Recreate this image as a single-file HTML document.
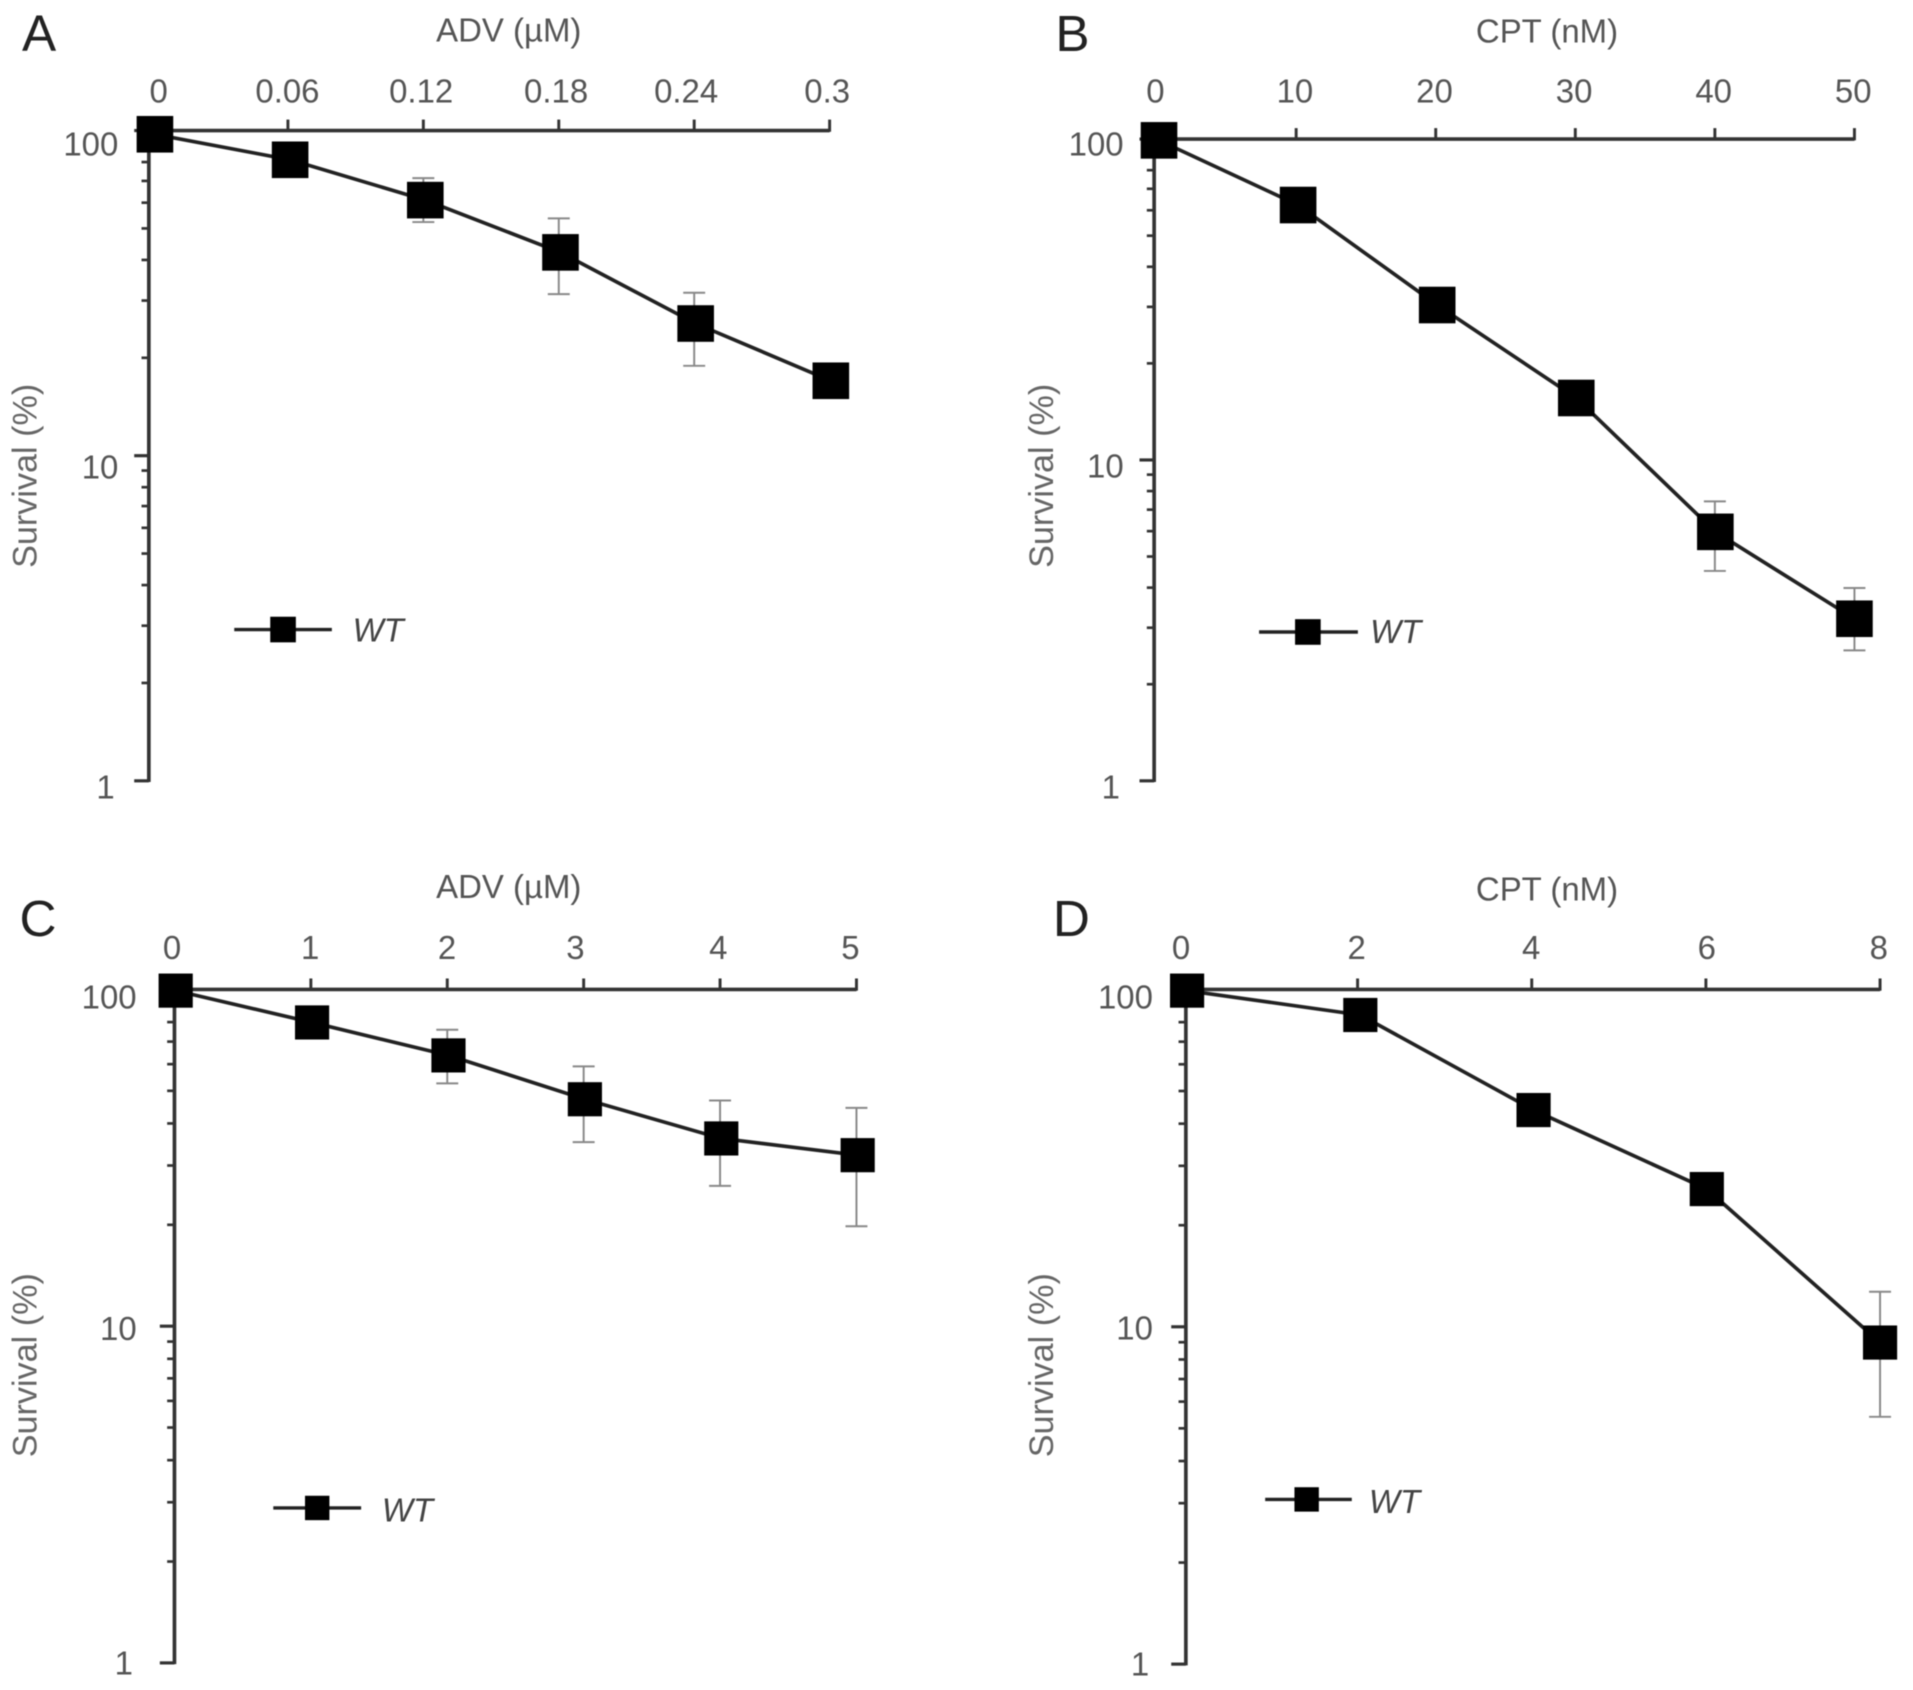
<!DOCTYPE html>
<html lang="en">
<head>
<meta charset="utf-8">
<title>Survival curves: ADV and CPT</title>
<style>
  html, body { margin: 0; padding: 0; background: #fff; }
  #figure { display: block; width: 1913px; height: 1690px; filter: blur(0.5px); }
  text { font-family: "Liberation Sans", sans-serif; fill: #555; }
</style>
</head>
<body>
<svg id="figure" xmlns="http://www.w3.org/2000/svg" width="1913" height="1690" viewBox="0 0 1568 1385.2"></svg>
<script>
// ---- Chart data ----
const panelADoses = [0, 0.06, 0.12, 0.18, 0.24, 0.3];
const panelATickLabels = ['0', '0.06', '0.12', '0.18', '0.24', '0.3'];
const panelASurvival = [97.4, 81.3, 61.1, 42.2, 25.5, 17.0];
const panelAErrHigh = [null, null, 71.4, 53.7, 31.7, null];
const panelAErrLow = [null, null, 52.3, 31.4, 18.9, null];

const panelBDoses = [0, 10, 20, 30, 40, 50];
const panelBTickLabels = ['0', '10', '20', '30', '40', '50'];
const panelBSurvival = [99.1, 62.3, 30.4, 15.6, 5.97, 3.2];
const panelBErrHigh = [null, null, null, null, 7.43, 3.99];
const panelBErrLow = [null, null, null, null, 4.51, 2.55];

const panelCDoses = [0, 1, 2, 3, 4, 5];
const panelCTickLabels = ['0', '1', '2', '3', '4', '5'];
const panelCSurvival = [99.2, 79.8, 63.7, 47.2, 36.1, 32.2];
const panelCErrHigh = [null, null, 75.9, 59.1, 46.8, 44.5];
const panelCErrLow = [null, null, 52.6, 35.2, 26.1, 19.8];

const panelDDoses = [0, 2, 4, 6, 8];
const panelDTickLabels = ['0', '2', '4', '6', '8'];
const panelDSurvival = [99.2, 84, 43.9, 25.6, 8.98];
const panelDErrHigh = [null, null, null, null, 12.7];
const panelDErrLow = [null, null, null, null, 5.41];

const yDecades = [100, 10, 1];
const yDecadeLabels = ['100', '10', '1'];
const yMinorFactors = [2, 3, 4, 5, 6, 7, 8, 9];
const legendLabel = 'WT';
const yAxisTitle = 'Survival (%)';

// ---- Layout, separate from the data ----
const panels = [
  { id: 'a', letter: 'A', title: 'ADV (\u00B5M)', doses: panelADoses, labels: panelATickLabels, survival: panelASurvival, hi: panelAErrHigh, lo: panelAErrLow,
    axisX: 122, axisEnd: 680, top: 107, bottom: 640, markX: [127, 681], tickX: [125, 680], labelX: [130, 678], labelNudge: [0, -4, -4, -3, -6, 0], labelY: 84,
    marker: 30, letterX: 18, letterY: 42, titleX: 417, titleY: 34, yTitleX: 30, yTitleY: 390, yLabelRight: 97, yLabelLast: 94, yLabelShift: [11, 9, 5],
    legend: { x1: 192, x2: 272, y: 516, sq: 232, size: 21, textX: 289, textY: 526 } },
  { id: 'b', letter: 'B', title: 'CPT (nM)', doses: panelBDoses, labels: panelBTickLabels, survival: panelBSurvival, hi: panelBErrHigh, lo: panelBErrLow,
    axisX: 946, axisEnd: 1520, top: 114, bottom: 640, markX: [950, 1520], tickX: [948, 1520], labelX: [947, 1519], labelNudge: [0, 0, 0, 0, 0, 0], labelY: 84,
    marker: 30, letterX: 865, letterY: 42, titleX: 1268, titleY: 35, yTitleX: 863, yTitleY: 390, yLabelRight: 921, yLabelLast: 918, yLabelShift: [4, 5, 5],
    legend: { x1: 1032, x2: 1113, y: 518, sq: 1072, size: 21, textX: 1123, textY: 527 } },
  { id: 'c', letter: 'C', title: 'ADV (\u00B5M)', doses: panelCDoses, labels: panelCTickLabels, survival: panelCSurvival, hi: panelCErrHigh, lo: panelCErrLow,
    axisX: 143, axisEnd: 702, top: 811, bottom: 1363, markX: [144, 703], tickX: [143, 702], labelX: [141, 697], labelNudge: [0, 2, 3, -3, 3, 0], labelY: 786,
    marker: 28, letterX: 16, letterY: 767, titleX: 417, titleY: 736, yTitleX: 30, yTitleY: 1119, yLabelRight: 112, yLabelLast: 109, yLabelShift: [6, 2, 0],
    legend: { x1: 224, x2: 296, y: 1236, sq: 260, size: 20, textX: 313, textY: 1247 } },
  { id: 'd', letter: 'D', title: 'CPT (nM)', doses: panelDDoses, labels: panelDTickLabels, survival: panelDSurvival, hi: panelDErrHigh, lo: panelDErrLow,
    axisX: 972, axisEnd: 1541, top: 811, bottom: 1364, markX: [973, 1541], tickX: [970, 1541], labelX: [968, 1540], labelNudge: [0, 1, 1, 2, 0], labelY: 786,
    marker: 28, letterX: 863, letterY: 767, titleX: 1268, titleY: 738, yTitleX: 863, yTitleY: 1119, yLabelRight: 945, yLabelLast: 942, yLabelShift: [6, 1, 0],
    legend: { x1: 1037, x2: 1108, y: 1229, sq: 1071, size: 20, textX: 1122, textY: 1240 } }
];

const SVG_NS = 'http://www.w3.org/2000/svg';
const figure = document.getElementById('figure');

function shape(parent, tag, attrs) {
  const node = document.createElementNS(SVG_NS, tag);
  Object.keys(attrs).forEach(function (k) { node.setAttribute(k, attrs[k]); });
  parent.appendChild(node);
  return node;
}
function label(parent, x, y, str, size, anchor, fill) {
  const node = shape(parent, 'text', { x: x, y: y, 'font-size': size, 'text-anchor': anchor, style: 'fill:' + fill });
  node.textContent = str;
  return node;
}

panels.forEach(function (p) {
  const maxDose = p.doses[p.doses.length - 1];
  const linear = function (range) {
    return function (v) { return range[0] + (v / maxDose) * (range[1] - range[0]); };
  };
  const xMark = linear(p.markX);
  const xTick = linear(p.tickX);
  const xLabel = linear(p.labelX);
  const yScale = function (v) {
    return p.top + (2 - Math.log10(v)) * (p.bottom - p.top) / 2;
  };

  const g = shape(figure, 'g', {});
  
  

  const letter = label(g, p.letterX, p.letterY, p.letter, 42, 'start', '#222');
  
  

  const title = label(g, p.titleX, p.titleY, p.title, 27, 'middle', '#555');
  
  

  const yTitle = label(g, 0, 0, yAxisTitle, 28, 'middle', '#666');
  yTitle.setAttribute('transform', 'translate(' + p.yTitleX + ' ' + p.yTitleY + ') rotate(-90)');
  
  

  // x axis
  const xAxis = shape(g, 'line', { x1: p.axisX, x2: p.axisEnd, y1: p.top, y2: p.top, stroke: '#333', 'stroke-width': 3 });
  
  

  p.doses.forEach(function (d, i) {
    const tick = shape(g, 'line', { x1: xTick(d), x2: xTick(d), y1: p.top - 9, y2: p.top + 1, stroke: '#333', 'stroke-width': 2.4 });
    
    
    const tl = label(g, xLabel(d) + p.labelNudge[i], p.labelY, p.labels[i], 27, 'middle', '#555');
    
    
  });

  // y axis
  const yAxis = shape(g, 'line', { x1: p.axisX, x2: p.axisX, y1: p.top, y2: p.bottom + 1, stroke: '#333', 'stroke-width': 3 });
  
  

  yDecades.forEach(function (dec, i) {
    const ty = yScale(dec);
    const major = shape(g, 'line', { x1: p.axisX - 12, x2: p.axisX, y1: ty, y2: ty, stroke: '#333', 'stroke-width': 2.6 });
    
    
    const right = i === yDecades.length - 1 ? p.yLabelLast : p.yLabelRight;
    const yl = label(g, right, ty + p.yLabelShift[i] + 9.5, yDecadeLabels[i], 27, 'end', '#555');
    
    
    if (dec > 1) {
      yMinorFactors.forEach(function (f) {
        const my = yScale(dec / 10 * f);
        const minor = shape(g, 'line', { x1: p.axisX - 6, x2: p.axisX, y1: my, y2: my, stroke: '#333', 'stroke-width': 2.2 });
        
        
      });
    }
  });

  // error bars
  p.doses.forEach(function (d, i) {
    if (p.hi[i] === null) return;
    const ex = xTick(d);
    const yHi = yScale(p.hi[i]);
    const yLo = yScale(p.lo[i]);
    const stem = shape(g, 'line', { x1: ex, x2: ex, y1: yHi, y2: yLo, stroke: '#888', 'stroke-width': 1.6 });
    
    
    const capHi = shape(g, 'line', { x1: ex - 9, x2: ex + 9, y1: yHi, y2: yHi, stroke: '#888', 'stroke-width': 1.6 });
    
    
    const capLo = shape(g, 'line', { x1: ex - 9, x2: ex + 9, y1: yLo, y2: yLo, stroke: '#888', 'stroke-width': 1.6 });
    
    
  });

  // series line
  const pts = p.doses.map(function (d, i) { return xMark(d) + ',' + yScale(p.survival[i]); }).join(' ');
  const line = shape(g, 'polyline', { points: pts, fill: 'none', stroke: '#222', 'stroke-width': 3 });
  
  

  // markers
  p.doses.forEach(function (d, i) {
    const m = shape(g, 'rect', { x: xMark(d) - p.marker / 2, y: yScale(p.survival[i]) - p.marker / 2, width: p.marker, height: p.marker, fill: '#000' });
    
    
  });

  // legend
  const L = p.legend;
  const legend = shape(g, 'g', {});
  
  
  const lLine = shape(legend, 'line', { x1: L.x1, x2: L.x2, y1: L.y, y2: L.y, stroke: '#222', 'stroke-width': 2.8 });
  
  
  const lSq = shape(legend, 'rect', { x: L.sq - L.size / 2, y: L.y - L.size / 2, width: L.size, height: L.size, fill: '#000' });
  
  
  const lText = label(legend, L.textX, L.textY, legendLabel, 27, 'start', '#444');
  lText.setAttribute('font-style', 'italic');
  
  
});
</script>
</body>
</html>
